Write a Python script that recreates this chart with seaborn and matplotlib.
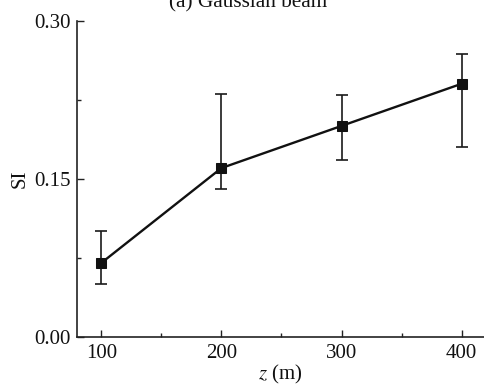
import matplotlib
matplotlib.use("Agg")
import matplotlib.pyplot as plt
from matplotlib.ticker import MultipleLocator, FormatStrFormatter
import seaborn as sns
import pandas as pd
import numpy as np

z_values = [100, 200, 300, 400]
si_values = [0.07, 0.16, 0.20, 0.24]
si_upper = [0.10, 0.23, 0.229, 0.268]
si_lower = [0.05, 0.14, 0.168, 0.18]
x_ticks = [100, 200, 300, 400]
y_ticks = [0.00, 0.15, 0.30]

sns.set_theme(style="ticks")
plt.rcParams['font.family'] = ['Liberation Serif', 'DejaVu Serif']
plt.rcParams['mathtext.fontset'] = 'stix'
plt.rcParams['xtick.direction'] = 'in'
plt.rcParams['ytick.direction'] = 'in'

df = pd.DataFrame({"z": z_values, "SI": si_values})

fig = plt.figure(figsize=(4.84, 3.9), dpi=100)
ax = fig.add_axes([77.3 / 484, 53.3 / 390, 1 - 77.3 / 484, (336.7 - 20.5) / 390])

err_low = np.array(si_values) - np.array(si_lower)
err_high = np.array(si_upper) - np.array(si_values)
ax.errorbar(z_values, si_values, yerr=[err_low, err_high], fmt='none',
            ecolor='#1a1a1a', elinewidth=1.2, capsize=4, capthick=1.2, zorder=2)
sns.lineplot(data=df, x="z", y="SI", ax=ax, color='#111111', linewidth=1.7,
             marker='s', markersize=7, markeredgecolor='#111111', zorder=3)

ax.set_xlim(80, 418.6)
ax.set_ylim(0, 0.30)
ax.set_xticks(x_ticks)
ax.set_yticks(y_ticks)
ax.xaxis.set_minor_locator(MultipleLocator(50))
ax.yaxis.set_minor_locator(MultipleLocator(0.075))
ax.yaxis.set_major_formatter(FormatStrFormatter('%.2f'))

for s in ['top', 'right']:
    ax.spines[s].set_visible(False)
for s in ['left', 'bottom']:
    ax.spines[s].set_linewidth(1.2)
    ax.spines[s].set_color('#222222')

ax.tick_params(axis='both', which='major', direction='in', length=5, width=1.0,
               labelsize=15, pad=5, colors='#222222', labelcolor='#111111')
ax.tick_params(axis='both', which='minor', direction='in', length=3, width=1.0,
               colors='#222222')

ax.set_xlabel(r'$z$ (m)', fontsize=15, labelpad=0, color='#111111')
ax.set_ylabel('SI', fontsize=15, labelpad=3, color='#111111')

fig.text(248 / 484, 1 - 7 / 390, '(a) Gaussian beam', ha='center', va='baseline',
         fontsize=15.3, color='#111111')

fig.savefig('out.png', dpi=100)
